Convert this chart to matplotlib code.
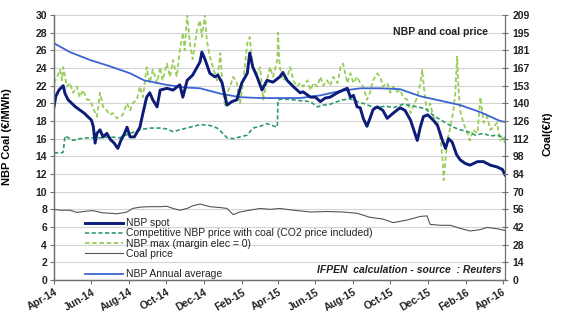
import matplotlib
matplotlib.use("Agg")
import matplotlib.pyplot as plt
import matplotlib.dates as mdates
from matplotlib.lines import Line2D
import pandas as pd
import numpy as np

plt.rcParams['font.family'] = ['Liberation Sans', 'DejaVu Sans']

# ---------------- data ----------------
SPOT_DATES = ["2014-04-01","2014-04-04","2014-04-09","2014-04-16","2014-04-19","2014-04-24","2014-04-30",
              "2014-05-06","2014-05-12","2014-05-20","2014-05-26","2014-06-01","2014-06-04","2014-06-07",
              "2014-06-10","2014-06-15","2014-06-20","2014-06-26","2014-07-02","2014-07-08","2014-07-14",
              "2014-07-19","2014-07-25","2014-07-29","2014-08-03","2014-08-10","2014-08-19","2014-08-24",
              "2014-08-30","2014-09-04","2014-09-09","2014-09-16","2014-09-21","2014-10-02","2014-10-12",
              "2014-10-23","2014-10-28","2014-11-04","2014-11-13","2014-11-25","2014-11-28","2014-12-03",
              "2014-12-11","2014-12-19","2014-12-24","2014-12-31","2015-01-05","2015-01-08","2015-01-16",
              "2015-01-24","2015-02-01","2015-02-10","2015-02-14","2015-02-19","2015-02-26","2015-03-06",
              "2015-03-14","2015-03-24","2015-04-04","2015-04-09","2015-04-16","2015-04-26","2015-05-07",
              "2015-05-12","2015-05-24","2015-06-01","2015-06-09","2015-06-17","2015-06-25","2015-07-07",
              "2015-07-16","2015-07-23","2015-07-28","2015-08-02","2015-08-08","2015-08-13","2015-08-18",
              "2015-08-24","2015-08-29","2015-09-03","2015-09-10","2015-09-19","2015-09-26","2015-10-06",
              "2015-10-17","2015-10-25","2015-11-03","2015-11-14","2015-11-19","2015-11-24","2015-12-01",
              "2015-12-10","2015-12-17","2015-12-25","2015-12-30","2016-01-04","2016-01-10","2016-01-17",
              "2016-01-23","2016-01-31","2016-02-08","2016-02-20","2016-03-01","2016-03-12","2016-03-23",
              "2016-04-01","2016-04-05"]
SPOT_VALUES = [19.6,20.8,21.5,22.0,21.1,20.4,20.0,
               19.6,19.3,18.9,18.5,18.1,17.4,15.5,
               16.6,17.0,16.2,16.6,15.9,15.5,14.9,
               15.8,16.6,17.3,16.2,16.2,17.3,18.9,
               20.7,21.2,20.4,19.6,21.5,21.7,21.5,
               22.1,20.7,22.6,23.2,24.7,25.8,25.0,
               23.4,23.0,23.2,22.3,20.7,19.8,20.2,
               20.4,22.3,23.4,25.7,24.1,23.0,21.5,
               22.6,22.4,23.0,23.5,22.6,21.9,21.2,
               21.3,20.7,20.7,20.2,20.6,20.7,21.2,
               21.5,21.7,20.7,20.9,19.6,19.5,18.3,
               17.4,18.3,19.3,19.6,19.2,18.3,18.9,
               19.5,19.2,18.1,15.8,17.3,18.5,18.7,
               18.1,17.5,15.8,14.9,16.0,15.6,14.2,
               13.6,13.2,13.0,13.4,13.4,13.0,12.8,
               12.5,11.9]

COMP_DATES = ["2014-04-01","2014-04-14","2014-04-16","2014-04-19","2014-04-27","2014-05-02","2014-05-13",
              "2014-05-25","2014-06-15","2014-07-01","2014-07-17","2014-08-03","2014-08-19","2014-09-04",
              "2014-09-21","2014-10-02","2014-10-12","2014-10-23","2014-11-09","2014-11-25","2014-12-11",
              "2014-12-23","2015-01-01","2015-01-08","2015-01-18","2015-01-29","2015-02-10","2015-02-19",
              "2015-03-03","2015-03-14","2015-03-22","2015-03-31","2015-04-01","2015-04-09","2015-04-26",
              "2015-05-07","2015-05-24","2015-06-04","2015-06-14","2015-06-25","2015-07-07","2015-07-16",
              "2015-07-28","2015-08-08","2015-08-18","2015-08-29","2015-09-10","2015-09-23","2015-10-06",
              "2015-10-22","2015-11-07","2015-11-27","2015-12-13","2015-12-30","2016-01-12","2016-01-23",
              "2016-02-04","2016-02-17","2016-03-01","2016-03-12","2016-03-23","2016-04-05"]
COMP_VALUES = [14.4,14.4,14.5,16.3,16.0,15.8,16.0,
               16.1,16.1,16.2,16.1,16.6,17.0,17.2,
               17.2,17.1,16.8,17.0,17.3,17.6,17.5,
               17.2,16.6,16.1,16.0,16.2,16.4,17.2,
               17.4,17.7,17.5,17.3,20.4,20.5,20.4,
               20.3,20.2,19.6,19.8,19.9,20.2,20.4,
               20.5,20.2,20.0,19.7,19.5,19.7,19.5,
               19.9,19.7,19.4,18.5,17.8,17.3,17.0,
               16.8,16.4,16.6,16.3,16.4,16.1]

MAX_DATES = ["2014-04-01","2014-04-06","2014-04-11","2014-04-14","2014-04-16","2014-04-22","2014-04-27",
             "2014-05-02","2014-05-08","2014-05-13","2014-05-18","2014-05-25","2014-05-30","2014-06-03",
             "2014-06-10","2014-06-15","2014-06-20","2014-06-26","2014-07-01","2014-07-06","2014-07-12",
             "2014-07-17","2014-07-22","2014-07-29","2014-08-03","2014-08-07","2014-08-14","2014-08-19",
             "2014-08-24","2014-08-30","2014-09-04","2014-09-09","2014-09-16","2014-09-21","2014-09-25",
             "2014-10-02","2014-10-07","2014-10-12","2014-10-18","2014-10-23","2014-10-28","2014-10-31",
             "2014-11-04","2014-11-09","2014-11-13","2014-11-20","2014-11-25","2014-11-28","2014-12-03",
             "2014-12-06","2014-12-11","2014-12-16","2014-12-23","2014-12-28","2015-01-01","2015-01-05",
             "2015-01-08","2015-01-13","2015-01-18","2015-01-24","2015-01-29","2015-02-03","2015-02-10",
             "2015-02-14","2015-02-19","2015-02-26","2015-03-03","2015-03-08","2015-03-14","2015-03-19",
             "2015-03-24","2015-03-31","2015-04-01","2015-04-04","2015-04-09","2015-04-16","2015-04-21",
             "2015-04-26","2015-05-02","2015-05-07","2015-05-12","2015-05-19","2015-05-24","2015-05-29",
             "2015-06-04","2015-06-09","2015-06-14","2015-06-20","2015-06-25","2015-06-30","2015-07-07",
             "2015-07-12","2015-07-16","2015-07-23","2015-07-28","2015-08-02","2015-08-08","2015-08-13",
             "2015-08-18","2015-08-24","2015-08-29","2015-09-03","2015-09-10","2015-09-15","2015-09-19",
             "2015-09-26","2015-10-01","2015-10-06","2015-10-12","2015-10-17","2015-10-22","2015-10-29",
             "2015-11-03","2015-11-07","2015-11-14","2015-11-19","2015-11-22","2015-11-27","2015-11-30",
             "2015-12-05","2015-12-10","2015-12-17","2015-12-22","2015-12-25","2015-12-27","2015-12-30",
             "2016-01-02","2016-01-07","2016-01-12","2016-01-15","2016-01-18","2016-01-20","2016-01-23",
             "2016-01-28","2016-02-04","2016-02-08","2016-02-13","2016-02-20","2016-02-25","2016-03-01",
             "2016-03-07","2016-03-12","2016-03-17","2016-03-23","2016-03-28","2016-04-02","2016-04-05"]
MAX_VALUES = [22.3,23.0,23.8,22.6,24.1,21.9,22.3,
              21.2,21.9,20.7,21.5,20.4,20.4,19.6,
              18.5,21.2,19.6,19.2,18.7,18.9,18.3,
              18.5,18.7,20.0,19.2,20.0,20.4,21.9,
              20.7,24.1,22.3,23.8,22.3,24.1,22.6,
              24.5,23.0,24.9,23.0,26.0,28.0,26.0,
              30.0,26.5,25.0,28.3,29.4,27.5,30.0,
              27.2,25.3,24.1,22.6,25.7,21.5,19.6,
              21.2,21.9,23.0,22.3,20.0,22.3,26.8,
              27.5,24.1,23.4,24.1,20.4,22.6,24.1,
              23.0,24.9,28.0,24.1,22.6,23.0,24.1,
              22.6,21.9,22.3,21.9,22.6,21.5,22.3,
              21.9,23.0,22.0,22.6,22.0,23.0,22.3,
              24.1,24.5,22.3,23.4,22.3,23.0,22.3,
              21.9,20.4,21.2,22.6,23.4,22.9,21.9,
              22.3,21.2,21.9,21.3,21.5,20.7,20.4,
              18.9,19.6,20.7,22.3,23.8,20.4,19.2,
              20.0,18.5,17.8,15.8,13.9,11.3,13.5,
              15.8,17.3,19.2,21.2,25.3,21.9,19.2,
              17.8,16.6,15.8,17.0,16.6,20.7,17.8,
              18.5,17.0,17.3,17.8,15.8,16.1,15.5]

COAL_DATES = ["2014-04-01","2014-04-11","2014-04-27","2014-05-08","2014-05-13","2014-05-25","2014-06-03",
              "2014-06-20","2014-07-01","2014-07-12","2014-07-22","2014-07-29","2014-08-07","2014-08-19",
              "2014-09-04","2014-09-21","2014-10-02","2014-10-12","2014-10-23","2014-11-04","2014-11-13",
              "2014-11-25","2014-12-11","2014-12-28","2015-01-08","2015-01-18","2015-01-29","2015-02-14",
              "2015-03-03","2015-03-19","2015-04-04","2015-04-26","2015-05-24","2015-06-20","2015-07-16",
              "2015-08-08","2015-08-29","2015-09-19","2015-10-06","2015-10-29","2015-11-19","2015-11-30",
              "2015-12-05","2015-12-22","2016-01-07","2016-01-23","2016-02-08","2016-02-25","2016-03-07",
              "2016-03-23","2016-04-05"]
COAL_VALUES = [55.8,55.1,55.1,53.4,53.7,54.4,54.8,
               53.0,52.7,52.3,53.0,53.7,56.5,57.5,
               57.9,57.9,58.2,56.5,55.1,56.5,58.6,
               60.0,57.9,57.2,56.5,51.6,53.7,55.1,
               56.5,55.8,56.5,55.1,53.7,54.1,53.7,
               52.7,49.5,48.1,45.3,47.4,50.2,50.6,
               43.9,43.2,43.2,40.8,38.7,39.8,41.5,
               40.5,39.1]

AVG_DATES = ["2014-04-01","2014-04-27","2014-05-30","2014-07-01","2014-08-03","2014-08-26","2014-10-01",
             "2014-10-31","2014-11-25","2014-12-28","2015-01-29","2015-03-03","2015-04-04","2015-05-07",
             "2015-06-09","2015-07-12","2015-08-13","2015-09-15","2015-10-17","2015-11-19","2015-12-22",
             "2016-01-23","2016-02-25","2016-03-28","2016-04-05"]
AVG_VALUES = [26.8,25.8,24.9,24.2,23.4,22.6,22.1,
              21.8,21.7,21.1,20.7,20.6,20.6,20.6,
              20.9,21.4,21.7,21.7,21.6,20.8,20.3,
              19.8,19.0,18.0,17.9]

LEFT_TICKS = list(range(0, 31, 2))
RIGHT_TICK_LABELS = [0, 14, 28, 42, 56, 70, 84, 98, 112, 126, 140, 153, 167, 181, 195, 209]
X_TICK_DATES = ["2014-04-01","2014-06-01","2014-08-01","2014-10-01","2014-12-01","2015-02-01",
                "2015-04-01","2015-06-01","2015-08-01","2015-10-01","2015-12-01","2016-02-01","2016-04-01"]
X_START, X_END = "2014-04-01", "2016-04-05"
LEFT_MAX = 30
RIGHT_MAX = 209.25

LABELS = ["NBP spot", "Competitive NBP price with coal (CO2 price included)",
          "NBP max (margin elec = 0)", "Coal price", " ", "NBP Annual average"]

# ---------------- plot ----------------
fig = plt.figure(figsize=(5.67, 3.31), dpi=100)
ax = fig.add_axes([54/567, 1-280/331, (505-54)/567, (280-15)/331])
ax2 = ax.twinx()

d = pd.to_datetime
ax.plot(d(MAX_DATES), MAX_VALUES, color='#9acd5a', lw=1.3, dashes=(2.5, 1.5), zorder=3)
ax.plot(d(COMP_DATES), COMP_VALUES, color='#2e9c6a', lw=1.2, dashes=(2.5, 1.5), zorder=3)
ax.plot(d(AVG_DATES), AVG_VALUES, color='#3c64d2', lw=1.3, zorder=4)
ax.plot(d(SPOT_DATES), SPOT_VALUES, color='#0c1c78', lw=2.1, zorder=5)
ax2.plot(d(COAL_DATES), COAL_VALUES, color='#555555', lw=0.8)

ax.set_xlim(d(X_START), d(X_END))
ax.set_ylim(0, LEFT_MAX)
ax2.set_ylim(0, RIGHT_MAX)
ax.set_yticks(LEFT_TICKS)
ax.set_yticklabels([str(v) for v in LEFT_TICKS])
ax2.set_yticks(np.linspace(0, RIGHT_MAX, len(RIGHT_TICK_LABELS)))
ax2.set_yticklabels([str(v) for v in RIGHT_TICK_LABELS])
ax.set_xticks(d(X_TICK_DATES))
ax.xaxis.set_major_formatter(mdates.DateFormatter('%b-%y'))

ax.grid(axis='y', color='#d4d4d4', lw=0.8)
ax.set_axisbelow(True)

for a in (ax, ax2):
    a.spines['top'].set_visible(False)
    for s in a.spines.values():
        s.set_color('#707070')
        s.set_linewidth(0.9)
ax.spines['right'].set_visible(False)

ax.tick_params(axis='y', direction='out', length=3, width=0.8, color='#707070', pad=2)
ax2.tick_params(axis='y', direction='inout', length=5, width=0.8, color='#707070', pad=3)
ax.tick_params(axis='x', direction='out', length=3, width=0.8, color='#707070', pad=2)
for lab in ax.get_yticklabels() + ax2.get_yticklabels():
    lab.set_fontsize(7.5); lab.set_fontweight('bold'); lab.set_color('#222222')
for lab in ax.get_xticklabels():
    lab.set_fontsize(7.5); lab.set_fontweight('bold'); lab.set_color('#222222')
    lab.set_rotation(30); lab.set_ha('right'); lab.set_rotation_mode('anchor')

ax.set_ylabel("NBP Coal (€/MWh)", fontsize=8, fontweight='bold')
ax.yaxis.set_label_coords(-0.093, 0.54)
ax2.set_ylabel("Coal(€/t)", fontsize=8, fontweight='bold')
ax2.yaxis.set_label_coords(1.084, 0.55)

ax.text(0.856, 0.936, "NBP and coal price", transform=ax.transAxes, fontsize=7.5,
        fontweight='bold', ha='center', va='center', color='#222222')
ax.text(0.993, 0.038, "IFPEN  calculation - source  : Reuters", transform=ax.transAxes,
        fontsize=7.5, fontweight='bold', style='italic', ha='right', va='center', color='#222222')

handles = [Line2D([], [], color='#0c1c78', lw=2.1),
           Line2D([], [], color='#2e9c6a', lw=1.2, dashes=(2.5, 1.5)),
           Line2D([], [], color='#9acd5a', lw=1.3, dashes=(2.5, 1.5)),
           Line2D([], [], color='#555555', lw=0.8),
           Line2D([], [], color='none'),
           Line2D([], [], color='#3c64d2', lw=1.3)]
leg = ax.legend(handles, LABELS, loc='upper left', bbox_to_anchor=(0.069, 0.233),
                frameon=False, fontsize=7.5, handlelength=3.6, handletextpad=0.3,
                labelspacing=0.02, borderpad=0, borderaxespad=0)
for t in leg.get_texts():
    t.set_color('#222222')

fig.savefig("out.png", dpi=100)
